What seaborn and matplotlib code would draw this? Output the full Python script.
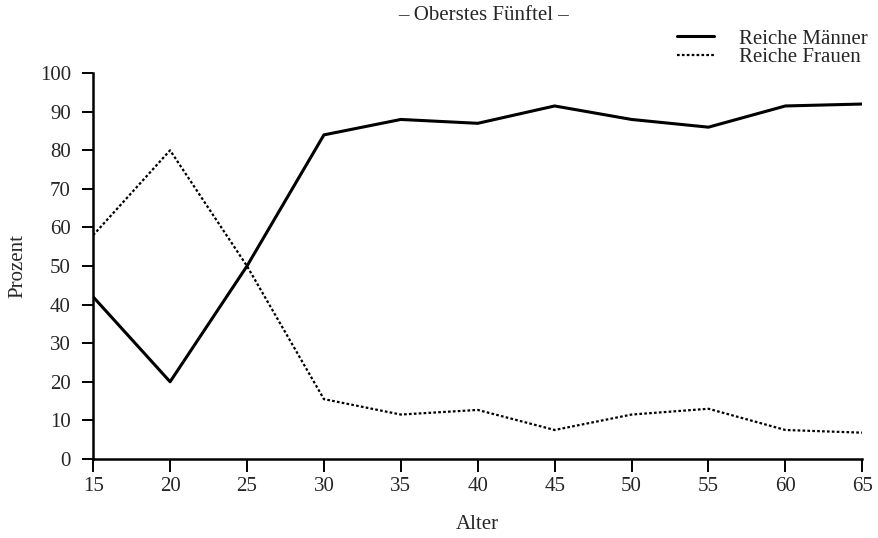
import matplotlib
matplotlib.use("Agg")
import matplotlib.pyplot as plt
import seaborn as sns
import pandas as pd

alter = [15, 20, 25, 30, 35, 40, 45, 50, 55, 60, 65]
reiche_maenner = [42, 20, 50, 84, 88, 87, 91.5, 88, 86, 91.5, 92]
reiche_frauen = [58, 80, 50, 15.5, 11.5, 12.7, 7.5, 11.5, 13, 7.5, 6.8]
serien = ["Reiche Männer", "Reiche Frauen"]
y_ticks = [0, 10, 20, 30, 40, 50, 60, 70, 80, 90, 100]

df = pd.DataFrame({
    "Alter": alter * 2,
    "Prozent": reiche_maenner + reiche_frauen,
    "Serie": [serien[0]] * len(alter) + [serien[1]] * len(alter),
})

sns.set_style("ticks")
plt.rcParams["font.family"] = ["Liberation Serif", "DejaVu Serif"]

FS = 15
fig = plt.figure(figsize=(8.79, 5.38), dpi=100)
ax = fig.add_axes([0.106, 0.147, 0.875, 0.717])

sns.lineplot(data=df, x="Alter", y="Prozent", style="Serie",
             dashes={serien[0]: "", serien[1]: (1.2, 1.0)},
             color="black", ax=ax, legend=False)
for line, lw in zip(ax.get_lines(), [2.2, 1.6]):
    line.set_linewidth(lw)

ax.set_xlim(15, 65)
ax.set_ylim(0, 100)
ax.set_xticks(alter)
ax.set_yticks(y_ticks)
ax.tick_params(axis="y", labelsize=FS, length=8, width=1.4, color="black", pad=8)
ax.tick_params(axis="x", labelsize=FS, length=9, width=1.4, color="black", pad=4)
ax.set_xlabel("Alter", fontsize=FS, labelpad=14)
ax.set_ylabel("Prozent", fontsize=FS, labelpad=9)
for s in ["top", "right"]:
    ax.spines[s].set_visible(False)
for s in ["left", "bottom"]:
    ax.spines[s].set_linewidth(1.8)
    ax.spines[s].set_color("black")

fig.text(0.55, 0.972, "– Oberstes Fünftel –", ha="center", va="center", fontsize=FS)

handles = ax.get_lines()
fig.legend(handles[:2], serien, loc="upper left", bbox_to_anchor=(0.770, 0.946),
           frameon=False, fontsize=FS, handlelength=1.8, handletextpad=1.2,
           labelspacing=-0.05, borderpad=0, borderaxespad=0)

fig.savefig("out.png", dpi=100)
